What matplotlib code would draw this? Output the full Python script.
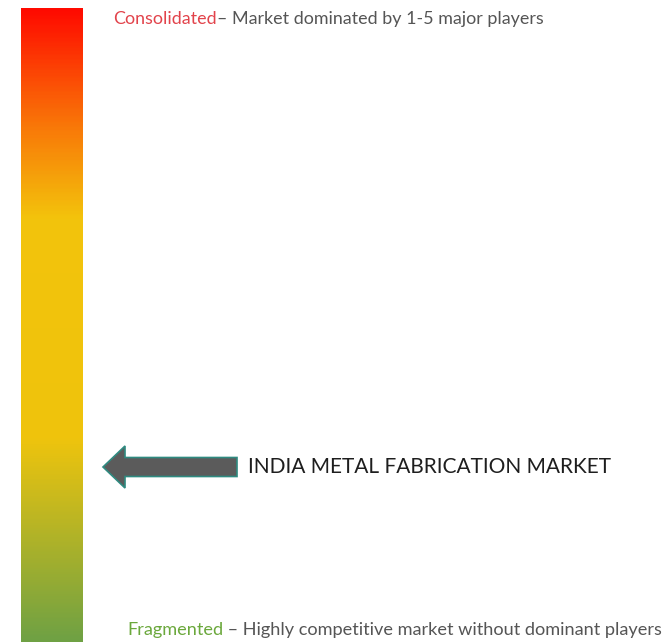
import numpy as np
import matplotlib.pyplot as plt
from matplotlib.colors import LinearSegmentedColormap
from matplotlib.patches import Polygon

# gradient stops (fraction from top of bar, colour)
stop_pos = [0.0, 0.18, 0.33, 0.68, 1.0]
stop_col = ['#ff0a00', '#f97508', '#f3c30c', '#efc40d', '#6fa144']

top_label = 'Consolidated'
top_desc = '\u2013 Market dominated by 1-5 major players'
bottom_label = 'Fragmented'
bottom_desc = ' \u2013 Highly competitive market without dominant players'
market_name = 'INDIA METAL FABRICATION MARKET'

plt.rcParams['font.family'] = ['Lato', 'DejaVu Sans']

W, H = 667, 642
fig = plt.figure(figsize=(W / 100, H / 100), dpi=100)
ax = fig.add_axes([0, 0, 1, 1])
ax.set_xlim(0, W)
ax.set_ylim(H, 0)
ax.axis('off')

cmap = LinearSegmentedColormap.from_list('bar', list(zip(stop_pos, stop_col)))
grad = np.linspace(0, 1, 400).reshape(-1, 1)
ax.imshow(grad, cmap=cmap, aspect='auto', extent=[21, 83, 642, 8], zorder=1)

# arrow pointing to the bar
ym = 467
arrow = Polygon([[237, ym - 9.5], [125, ym - 9.5], [125, ym - 21], [103, ym],
                 [125, ym + 21], [125, ym + 9.5], [237, ym + 9.5]],
                closed=True, facecolor='#5b5b5b', edgecolor='#2f8a80', lw=1.2, zorder=2)
ax.add_patch(arrow)
ax.text(248, ym, market_name, fontsize=15, color='#1e1e1e', va='center', ha='left')

fig.canvas.draw()
r = fig.canvas.get_renderer()
inv = ax.transData.inverted()

def two_tone(x, y, a, b, ca, cb, fs):
    t = ax.text(x, y, a, fontsize=fs, color=ca, va='center', ha='left')
    bb = t.get_window_extent(renderer=r)
    x2 = inv.transform((bb.x1, bb.y0))[0]
    ax.text(x2, y, b, fontsize=fs, color=cb, va='center', ha='left')

two_tone(113, 19, top_label, top_desc, '#e2434b', '#555555', 12.85)
two_tone(127, 630, bottom_label, bottom_desc, '#6ba83c', '#555555', 13.05)

fig.savefig('out.png', dpi=100)
